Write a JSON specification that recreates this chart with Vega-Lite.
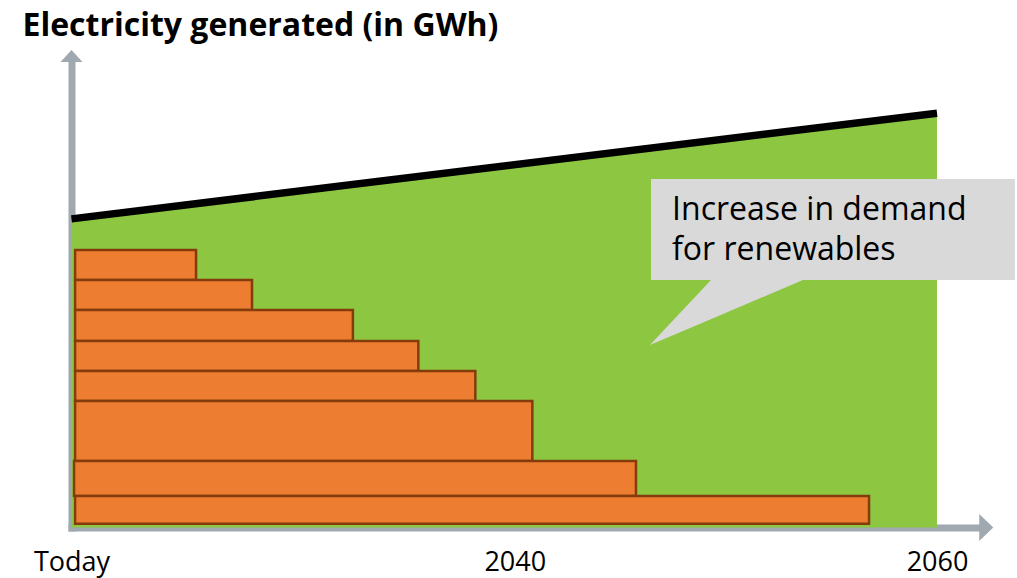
{
  "$schema": "https://vega.github.io/schema/vega-lite/v6.json",
  "autosize": {"type": "none"},
  "padding": {"left": 71.5, "top": 62, "right": 37.77, "bottom": 50.5},
  "width": 907.73,
  "height": 465.5,
  "background": "white",
  "config": {
    "view": {"stroke": null},
    "axis": {
      "grid": false,
      "ticks": false,
      "tickSize": 0,
      "domain": true,
      "domainColor": "#A0A9B0",
      "domainWidth": 7,
      "domainCap": "square",
      "zindex": 1,
      "title": null
    },
    "axisX": {
      "labelFont": "Open Sans",
      "labelFontSize": 27,
      "labelColor": "#000000",
      "labelBaseline": "alphabetic",
      "labelPadding": 42.5,
      "labelFlush": false,
      "labelOverlap": false,
      "labelBound": false
    },
    "axisY": {"labels": false}
  },
  "title": {
    "text": "Electricity generated (in GWh)",
    "anchor": "start",
    "frame": "group",
    "font": "Open Sans",
    "fontSize": 32,
    "fontWeight": "bold",
    "color": "#000000",
    "baseline": "alphabetic",
    "offset": 21,
    "dx": -49,
    "dy": 39
  },
  "datasets": {
    "demand": [
      {"year": 2019, "gwh": 66.3},
      {"year": 2060, "gwh": 89.0}
    ],
    "plants": [
      {"plant": "Plant 1", "start": 2019.17, "retire": 2024.9, "low": 53.17, "high": 59.61},
      {"plant": "Plant 2", "start": 2019.17, "retire": 2027.55, "low": 46.72, "high": 53.17},
      {"plant": "Plant 3", "start": 2019.17, "retire": 2032.33, "low": 40.06, "high": 46.72},
      {"plant": "Plant 4", "start": 2019.17, "retire": 2035.43, "low": 33.62, "high": 40.06},
      {"plant": "Plant 5", "start": 2019.17, "retire": 2038.13, "low": 27.18, "high": 33.62},
      {"plant": "Plant 6", "start": 2019.17, "retire": 2040.83, "low": 14.29, "high": 27.18},
      {"plant": "Plant 7", "start": 2019.12, "retire": 2045.74, "low": 6.77, "high": 14.29},
      {"plant": "Plant 8", "start": 2019.17, "retire": 2056.78, "low": 0.8, "high": 6.77}
    ],
    "calloutBox": [
      {"x1": 2046.45, "x2": 2063.69, "y1": 53.17, "y2": 74.87}
    ],
    "calloutPointer": [
      {"x": 2046.40, "top": 39.2, "bottom": 39.2},
      {"x": 2049.34, "top": 53.4, "bottom": 44.86},
      {"x": 2053.65, "top": 53.4, "bottom": 53.17}
    ],
    "calloutText": [
      {"x": 2047.45, "y": 66.06, "text": "Increase in demand\nfor renewables"}
    ],
    "arrowX": [{"year": 2062, "gwh": 0}],
    "arrowY": [{"year": 2019, "gwh": 100}]
  },
  "layer": [
    {
      "data": {"name": "demand"},
      "mark": {"type": "area", "color": "#8DC641", "opacity": 1},
      "encoding": {
        "x": {
          "field": "year", "type": "quantitative", "title": null,
          "scale": {"domain": [2019, 2062], "nice": false, "zero": false},
          "axis": {
            "values": [2019, 2040, 2060],
            "labelExpr": "datum.value == 2019 ? 'Today' : format(datum.value, 'd')"
          }
        },
        "y": {
          "field": "gwh", "type": "quantitative", "title": null,
          "scale": {"domain": [0, 100], "nice": false}
        }
      }
    },
    {
      "data": {"name": "demand"},
      "mark": {"type": "line", "color": "#000000", "strokeWidth": 7.5, "strokeCap": "butt"},
      "encoding": {
        "x": {"field": "year", "type": "quantitative", "title": null},
        "y": {"field": "gwh", "type": "quantitative", "title": null}
      }
    },
    {
      "data": {"name": "plants"},
      "mark": {"type": "rect", "fill": "#ED7D31", "stroke": "#843C0C", "strokeWidth": 2.5},
      "encoding": {
        "x": {"field": "start", "type": "quantitative", "title": null},
        "x2": {"field": "retire"},
        "y": {"field": "low", "type": "quantitative", "title": null},
        "y2": {"field": "high"}
      }
    },
    {
      "data": {"name": "calloutPointer"},
      "mark": {"type": "area", "color": "#D9D9D9", "opacity": 1},
      "encoding": {
        "x": {"field": "x", "type": "quantitative", "title": null},
        "y": {"field": "top", "type": "quantitative", "title": null},
        "y2": {"field": "bottom"}
      }
    },
    {
      "data": {"name": "calloutBox"},
      "mark": {"type": "rect", "fill": "#D9D9D9"},
      "encoding": {
        "x": {"field": "x1", "type": "quantitative", "title": null},
        "x2": {"field": "x2"},
        "y": {"field": "y1", "type": "quantitative", "title": null},
        "y2": {"field": "y2"}
      }
    },
    {
      "data": {"name": "calloutText"},
      "mark": {"type": "text", "font": "Open Sans", "fontSize": 32, "color": "#000000", "align": "left", "baseline": "alphabetic", "lineBreak": "\n", "lineHeight": 40},
      "encoding": {
        "x": {"field": "x", "type": "quantitative", "title": null},
        "y": {"field": "y", "type": "quantitative", "title": null},
        "text": {"field": "text", "type": "nominal"}
      }
    },
    {
      "data": {"name": "arrowX"},
      "mark": {"type": "point", "shape": "M 0 -1 L 1.04 0 L 0 1 Z", "size": 729, "filled": true, "fill": "#A0A9B0", "opacity": 1, "strokeWidth": 0},
      "encoding": {
        "x": {"field": "year", "type": "quantitative", "title": null},
        "y": {"field": "gwh", "type": "quantitative", "title": null}
      }
    },
    {
      "data": {"name": "arrowY"},
      "mark": {"type": "point", "shape": "M -1 0 L 0 -1.09 L 1 0 Z", "size": 484, "filled": true, "fill": "#A0A9B0", "opacity": 1, "strokeWidth": 0},
      "encoding": {
        "x": {"field": "year", "type": "quantitative", "title": null},
        "y": {"field": "gwh", "type": "quantitative", "title": null}
      }
    }
  ]
}
